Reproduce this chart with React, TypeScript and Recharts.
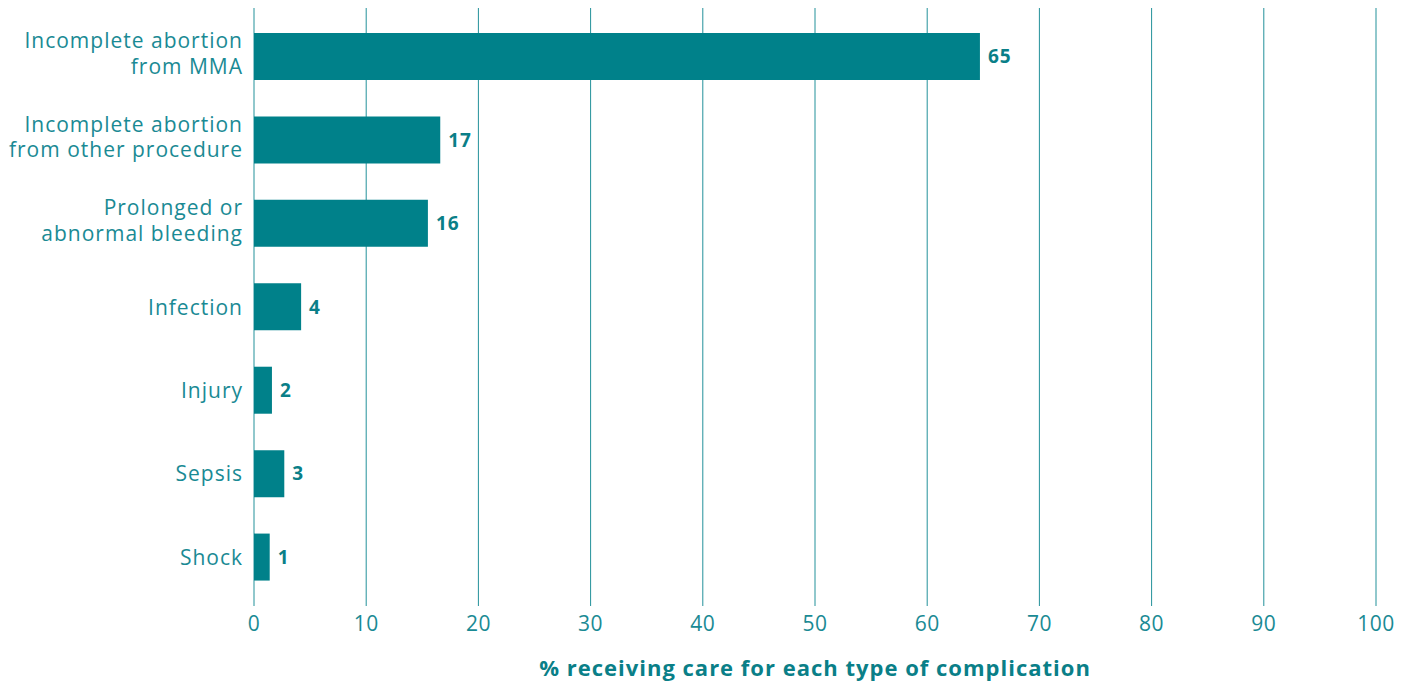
import React from 'react';
import { BarChart, Bar, XAxis, YAxis, CartesianGrid, LabelList } from 'recharts';

const categories = [
  'Incomplete abortion\nfrom MMA',
  'Incomplete abortion\nfrom other procedure',
  'Prolonged or\nabnormal bleeding',
  'Infection',
  'Injury',
  'Sepsis',
  'Shock',
];
const percentValues = [64.7, 16.6, 15.5, 4.2, 1.6, 2.7, 1.4];
const xTicks = [0, 10, 20, 30, 40, 50, 60, 70, 80, 90, 100];
const axisTitle = '% receiving care for each type of complication';

const data = categories.map((name, i) => ({ name, value: percentValues[i] }));

const FONT = '"Open Sans", sans-serif';
const TEXT = '#1a8a94';
const BAR = '#00818a';
const GRID = '#23919a';

const CategoryTick = (props: any) => {
  const { x, y, payload } = props;
  const lines = String(payload.value).split('\n');
  const n = lines.length;
  const lh = 25.6;
  return (
    <text x={x} y={y} textAnchor="end" fill={TEXT} fontFamily={FONT} fontSize={21} letterSpacing={1}>
      {lines.map((l, i) => (
        <tspan key={i} x={x} y={y + 7.5 + (i - (n - 1) / 2) * lh - (n > 1 ? 3 : 0)}>
          {l}
        </tspan>
      ))}
    </text>
  );
};

export default function App() {
  return (
    <BarChart
      width={1390}
      height={673}
      data={data}
      layout="vertical"
      margin={{ top: 0, right: 22, bottom: 0, left: 0 }}
    >
      <CartesianGrid horizontal={false} vertical stroke={GRID} strokeWidth={1} />
      <XAxis
        type="number"
        domain={[0, 100]}
        ticks={xTicks}
        axisLine={false}
        tickLine={false}
        tickMargin={4}
        height={75}
        tick={{ fill: TEXT, fontSize: 21, fontFamily: FONT, letterSpacing: 0.5 }}
        label={{
          value: axisTitle,
          position: 'insideBottom',
          offset: 5,
          fill: '#0a7f88',
          fontSize: 22,
          fontWeight: 700,
          fontFamily: FONT,
          letterSpacing: 1,
        }}
      />
      <YAxis
        type="category"
        dataKey="name"
        width={246}
        axisLine={false}
        tickLine={false}
        tickMargin={5}
        padding={{ top: 7, bottom: 7 }}
        interval={0}
        tick={<CategoryTick />}
      />
      <Bar dataKey="value" fill={BAR} barSize={47} isAnimationActive={false}>
        <LabelList
          dataKey="value"
          position="right"
          offset={8}
          formatter={(v: any) => Math.round(Number(v))}
          fill="#0a7f88"
          fontSize={19}
          fontWeight={700}
          fontFamily={FONT}
          letterSpacing={1}
        />
      </Bar>
    </BarChart>
  );
}
